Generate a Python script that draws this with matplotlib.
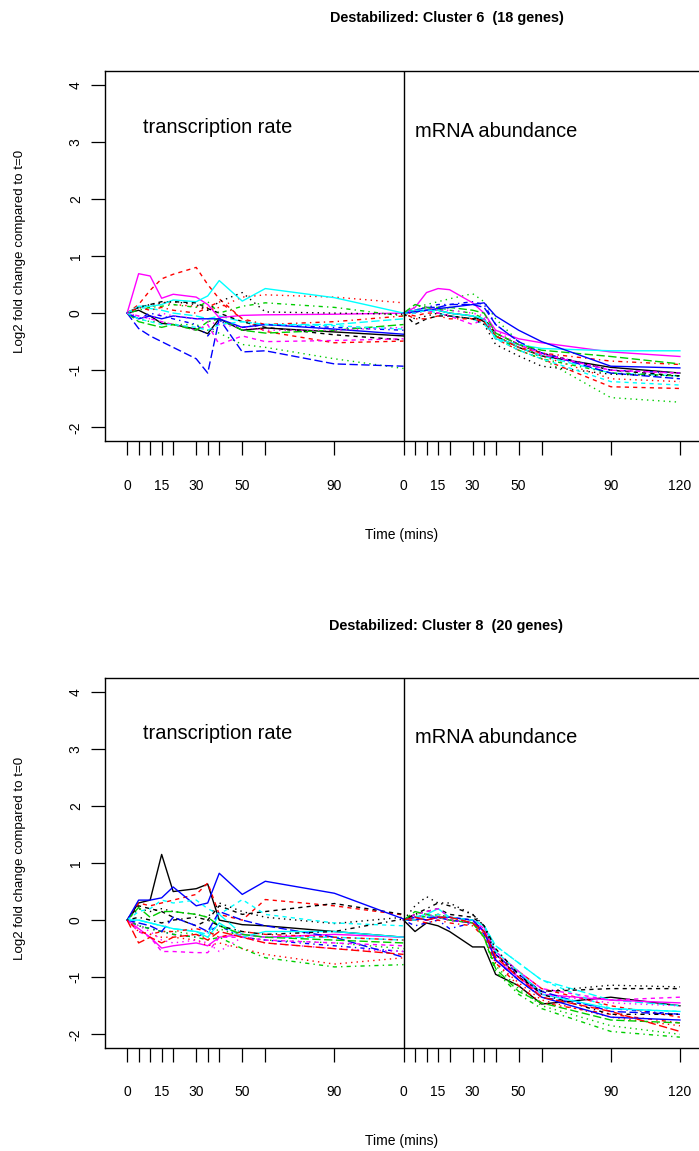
import matplotlib
matplotlib.use('Agg')
import matplotlib.pyplot as plt

plt.rcParams['font.family'] = ['Liberation Sans', 'DejaVu Sans']

# ---------------- data ----------------
times = [0, 5, 10, 15, 20, 30, 35, 40, 50, 60, 90, 120]
trans_tick_times = [0, 5, 10, 15, 20, 30, 35, 40, 50, 60, 90]
mrna_tick_times = [0, 5, 10, 15, 20, 30, 35, 40, 50, 60, 90, 120]
labelled_times = [0, 15, 30, 50, 90]
labelled_times_mrna = [0, 15, 30, 50, 90, 120]

titles = ["Destabilized: Cluster 6  (18 genes)", "Destabilized: Cluster 8  (20 genes)"]

# Cluster 6 - transcription rate (18 genes)
c6_trans = [
    [0, 0.05, -0.05, -0.18, -0.2, -0.28, -0.36, -0.1, -0.3, -0.26, -0.33, -0.4],
    [0, 0.15, 0.4, 0.6, 0.68, 0.8, 0.5, 0.25, -0.1, -0.32, -0.52, -0.49],
    [0, -0.1, -0.15, -0.15, -0.2, -0.2, -0.3, -0.35, -0.55, -0.6, -0.8, -0.97],
    [0, -0.1, 0.0, -0.05, -0.1, -0.2, -0.4, -0.15, -0.25, -0.2, -0.25, -0.3],
    [0, 0.1, 0.08, 0.05, 0.0, -0.05, -0.1, -0.05, -0.15, -0.2, -0.2, -0.1],
    [0, 0.69, 0.65, 0.26, 0.33, 0.28, 0.15, -0.08, -0.04, -0.03, -0.02, 0.0],
    [0, 0.1, 0.15, 0.2, 0.2, 0.18, 0.08, 0.0, -0.15, -0.25, -0.38, -0.47],
    [0, 0.12, 0.1, 0.18, 0.15, 0.12, 0.05, 0.1, 0.28, 0.32, 0.28, 0.18],
    [0, 0.05, 0.1, 0.12, 0.15, 0.1, 0.2, 0.0, 0.12, 0.18, 0.1, -0.05],
    [0, -0.27, -0.4, -0.5, -0.6, -0.8, -1.05, -0.1, -0.68, -0.66, -0.89, -0.93],
    [0, 0.12, 0.12, 0.15, 0.23, 0.2, 0.3, 0.57, 0.21, 0.43, 0.27, 0.0],
    [0, -0.05, -0.1, -0.15, -0.2, -0.3, -0.2, -0.55, -0.4, -0.5, -0.48, -0.45],
    [0, 0.1, 0.15, 0.18, 0.2, 0.15, 0.05, 0.2, 0.36, 0.02, 0.0, -0.02],
    [0, 0.1, 0.05, 0.1, 0.05, 0.0, 0.1, 0.2, -0.1, -0.2, -0.15, -0.05],
    [0, -0.15, -0.2, -0.25, -0.2, -0.3, -0.15, -0.1, -0.3, -0.35, -0.3, -0.2],
    [0, -0.1, -0.05, -0.1, -0.05, -0.1, -0.1, -0.1, -0.25, -0.2, -0.28, -0.37],
    [0, -0.1, -0.15, -0.2, -0.2, -0.25, -0.3, -0.2, -0.15, -0.2, -0.22, -0.28],
    [0, -0.05, -0.1, 0.0, -0.05, -0.1, -0.15, -0.2, -0.25, -0.3, -0.3, -0.25],
]

# Cluster 6 - mRNA abundance (18 genes)
c6_mrna = [
    [0, 0.02, 0.05, 0.05, 0.0, -0.05, -0.15, -0.4, -0.6, -0.75, -0.95, -1.05],
    [0, -0.05, 0.0, 0.0, -0.05, -0.1, -0.15, -0.45, -0.65, -0.8, -1.29, -1.32],
    [0, 0.1, 0.15, 0.2, 0.25, 0.34, 0.2, -0.1, -0.5, -0.8, -1.48, -1.56],
    [0, 0.05, 0.1, 0.15, 0.15, 0.2, 0.15, -0.2, -0.5, -0.7, -1.0, -1.05],
    [0, 0.05, 0.05, 0.0, -0.05, -0.1, -0.2, -0.4, -0.6, -0.75, -1.05, -1.1],
    [0, 0.1, 0.36, 0.43, 0.41, 0.18, 0.0, -0.3, -0.45, -0.52, -0.68, -0.76],
    [0, -0.2, -0.1, -0.05, -0.05, -0.1, -0.1, -0.35, -0.55, -0.7, -1.0, -1.1],
    [0, 0.0, 0.05, 0.05, 0.0, -0.05, -0.1, -0.4, -0.6, -0.75, -1.15, -1.2],
    [0, 0.05, 0.1, 0.1, 0.05, 0.0, -0.1, -0.4, -0.65, -0.8, -1.05, -1.1],
    [0, 0.05, 0.1, 0.1, 0.15, 0.15, 0.1, -0.2, -0.5, -0.7, -1.05, -1.15],
    [0, 0.05, 0.05, 0.05, 0.0, -0.05, -0.1, -0.45, -0.55, -0.62, -0.66, -0.66],
    [0, 0.0, 0.05, 0.0, -0.05, -0.2, -0.1, -0.35, -0.55, -0.72, -1.0, -1.05],
    [0, -0.1, -0.05, 0.0, -0.05, -0.1, -0.2, -0.55, -0.75, -0.93, -1.07, -1.1],
    [0, -0.1, -0.1, -0.05, -0.1, -0.1, -0.15, -0.4, -0.6, -0.7, -0.84, -0.9],
    [0, 0.15, 0.1, 0.05, 0.1, 0.05, 0.0, -0.35, -0.55, -0.65, -0.76, -0.89],
    [0, 0.02, 0.05, 0.08, 0.1, 0.15, 0.18, -0.05, -0.3, -0.5, -0.93, -0.96],
    [0, 0.0, 0.05, 0.05, 0.0, -0.05, -0.1, -0.45, -0.65, -0.8, -1.2, -1.26],
    [0, 0.05, 0.1, 0.05, 0.05, 0.0, -0.05, -0.3, -0.55, -0.7, -1.0, -1.05],
]

# Cluster 8 - transcription rate (20 genes)
c8_trans = [
    [0, 0.3, 0.35, 1.15, 0.5, 0.55, 0.63, 0.0, -0.08, -0.1, -0.2, -0.3],
    [0, 0.3, 0.25, 0.3, 0.35, 0.45, 0.65, 0.1, 0.0, 0.36, 0.25, 0.09],
    [0, -0.1, -0.15, -0.2, -0.2, -0.25, -0.3, -0.15, -0.3, -0.35, -0.4, -0.5],
    [0, -0.1, -0.15, -0.2, -0.25, -0.3, -0.2, -0.1, -0.3, -0.35, -0.45, -0.55],
    [0, 0.0, -0.05, -0.1, -0.15, -0.2, -0.25, 0.1, -0.25, -0.3, -0.3, -0.35],
    [0, -0.15, -0.3, -0.49, -0.45, -0.4, -0.45, -0.3, -0.25, -0.3, -0.25, -0.3],
    [0, 0.25, 0.2, 0.15, 0.05, -0.1, 0.0, 0.25, 0.1, 0.15, 0.29, 0.1],
    [0, -0.2, -0.25, -0.3, -0.3, -0.35, -0.45, -0.4, -0.5, -0.6, -0.77, -0.66],
    [0, -0.1, -0.15, -0.2, -0.25, -0.3, -0.35, -0.3, -0.5, -0.66, -0.82, -0.78],
    [0, -0.05, -0.1, -0.2, 0.05, -0.1, -0.2, 0.15, 0.0, -0.1, -0.3, -0.65],
    [0, 0.0, -0.05, -0.1, -0.15, -0.2, -0.3, -0.05, -0.3, -0.2, -0.2, -0.3],
    [0, -0.2, -0.3, -0.55, -0.55, -0.57, -0.57, -0.3, -0.3, -0.35, -0.4, -0.45],
    [0, 0.2, 0.15, 0.2, 0.15, 0.1, 0.05, 0.3, 0.15, 0.05, -0.06, 0.05],
    [0, -0.2, -0.25, -0.2, -0.2, -0.15, -0.2, -0.3, -0.2, -0.25, -0.3, -0.35],
    [0, 0.22, 0.05, 0.15, 0.15, 0.1, 0.05, -0.1, -0.25, -0.3, -0.35, -0.4],
    [0, 0.35, 0.35, 0.39, 0.58, 0.25, 0.3, 0.82, 0.45, 0.68, 0.47, 0.02],
    [0, 0.15, 0.2, 0.35, 0.3, 0.35, 0.2, 0.1, 0.36, 0.1, -0.05, -0.1],
    [0, -0.1, -0.2, -0.35, -0.4, -0.35, -0.4, -0.55, -0.3, -0.4, -0.5, -0.55],
    [0, 0.05, 0.0, -0.05, 0.0, 0.05, 0.0, -0.1, -0.2, -0.25, -0.2, 0.02],
    [0, -0.4, -0.3, -0.4, -0.3, -0.25, -0.35, -0.2, -0.3, -0.4, -0.5, -0.6],
]

# Cluster 8 - mRNA abundance (20 genes)
c8_mrna = [
    [0, -0.2, -0.05, -0.1, -0.2, -0.47, -0.47, -0.95, -1.15, -1.47, -1.35, -1.5],
    [0, 0.0, 0.05, 0.1, 0.05, 0.0, -0.2, -0.6, -0.9, -1.2, -1.5, -1.7],
    [0, 0.05, 0.1, 0.05, 0.0, -0.05, -0.3, -0.8, -1.2, -1.5, -1.85, -2.0],
    [0, -0.1, -0.05, 0.0, -0.15, -0.05, -0.25, -0.7, -1.05, -1.35, -1.55, -1.65],
    [0, 0.05, 0.1, 0.05, 0.05, 0.0, -0.1, -0.45, -0.75, -1.05, -1.4, -1.5],
    [0, 0.05, 0.0, 0.05, 0.0, -0.05, -0.2, -0.7, -1.0, -1.3, -1.4, -1.45],
    [0, 0.1, 0.15, 0.2, 0.1, 0.05, -0.1, -0.6, -1.0, -1.25, -1.2, -1.2],
    [0, 0.05, 0.0, 0.05, 0.0, -0.05, -0.25, -0.75, -1.1, -1.4, -1.7, -1.85],
    [0, 0.1, 0.05, 0.1, 0.05, -0.05, -0.3, -0.9, -1.3, -1.55, -1.95, -2.05],
    [0, 0.0, 0.05, 0.05, 0.0, -0.05, -0.2, -0.6, -0.95, -1.25, -1.6, -1.65],
    [0, 0.05, 0.1, 0.2, 0.05, 0.0, -0.1, -0.55, -0.9, -1.3, -1.55, -1.6],
    [0, 0.1, 0.15, 0.2, 0.05, 0.0, -0.15, -0.55, -0.9, -1.2, -1.4, -1.35],
    [0, 0.25, 0.41, 0.3, 0.3, 0.1, -0.1, -0.6, -1.0, -1.25, -1.14, -1.17],
    [0, 0.0, -0.05, 0.0, -0.05, -0.1, -0.3, -0.75, -1.15, -1.45, -1.65, -1.8],
    [0, 0.15, 0.1, 0.05, 0.0, -0.05, -0.3, -0.85, -1.25, -1.45, -1.75, -1.8],
    [0, 0.05, 0.0, 0.05, 0.05, 0.0, -0.2, -0.7, -1.05, -1.35, -1.7, -1.75],
    [0, 0.0, 0.05, 0.1, 0.05, 0.0, -0.1, -0.45, -0.75, -1.05, -1.55, -1.6],
    [0, 0.05, 0.1, 0.05, 0.0, -0.05, -0.15, -0.6, -1.0, -1.3, -1.45, -1.5],
    [0, 0.1, 0.2, 0.3, 0.25, 0.1, -0.1, -0.5, -0.95, -1.3, -1.65, -1.65],
    [0, 0.05, 0.0, 0.05, 0.05, -0.05, -0.2, -0.65, -1.0, -1.35, -1.6, -1.95],
]

# ---------------- styling ----------------
palette = ['black', '#FF0000', '#00CD00', '#0000FF', '#00FFFF', '#FF00FF']
ltys = ['-', (0, (3, 3)), (0, (1, 3)), (0, (1, 3, 3, 3)), (0, (6, 2.5))]
OFFSET = 120  # mRNA time axis starts where transcription ends

W, H = 699, 1151
fig = plt.figure(figsize=(W / 100, H / 100), dpi=100)


def px_axes(left, top, right, bottom):
    return [left / W, 1 - bottom / H, (right - left) / W, (bottom - top) / H]


def panel(rect, trans, mrna, title, title_y, txt_y, xlabel_y, ylab_y):
    ax = fig.add_axes(px_axes(*rect))
    for i, (tr, mr) in enumerate(zip(trans, mrna)):
        c = palette[i % 6]
        ls = ltys[i % 5]
        ax.plot(times, tr, color=c, linestyle=ls, lw=1.0)
        ax.plot([OFFSET + t for t in times], mr, color=c, linestyle=ls, lw=1.0)
    ax.axvline(OFFSET, color='black', lw=1.0)
    ax.set_xlim(-9.6, 249.6)
    ax.set_ylim(-2.24, 4.24)
    ticks = list(trans_tick_times) + [OFFSET + t for t in mrna_tick_times]
    labels = [str(t) if t in labelled_times else '' for t in trans_tick_times] + \
             [str(t) if t in labelled_times_mrna else '' for t in mrna_tick_times]
    ax.set_xticks(ticks)
    ax.set_xticklabels(labels)
    ax.set_yticks([-2, -1, 0, 1, 2, 3, 4])
    ax.set_yticklabels(['-2', '-1', '0', '1', '2', '3', '4'], rotation=90, va='center')
    ax.tick_params(axis='x', direction='out', length=10, width=0.9, pad=17, labelsize=10)
    ax.tick_params(axis='y', direction='out', length=10, width=0.9, pad=6, labelsize=10)
    for s in ax.spines.values():
        s.set_linewidth(1.0)
    ax.text(7.1, txt_y[0], 'transcription rate', fontsize=14.4, va='center', ha='left')
    ax.text(125, txt_y[1], 'mRNA abundance', fontsize=14.4, va='center', ha='left')
    fig.text(446.5 / W, 1 - title_y / H, title, fontsize=10.4, fontweight='bold',
             ha='center', va='center')
    fig.text(402 / W, 1 - xlabel_y / H, 'Time (mins)', fontsize=10, ha='center', va='center')
    fig.text(20 / W, 1 - ylab_y / H, 'Log2 fold change compared to t=0', fontsize=9.6,
             rotation=90, ha='center', va='center')
    return ax


panel((105, 71, 702, 441), c6_trans, c6_mrna, titles[0], 18, (3.25, 3.18), 535, 251)
panel((105, 678, 702, 1048), c8_trans, c8_mrna, titles[1], 626, (3.26, 3.19), 1141, 858)

fig.savefig('out.png', dpi=100)
